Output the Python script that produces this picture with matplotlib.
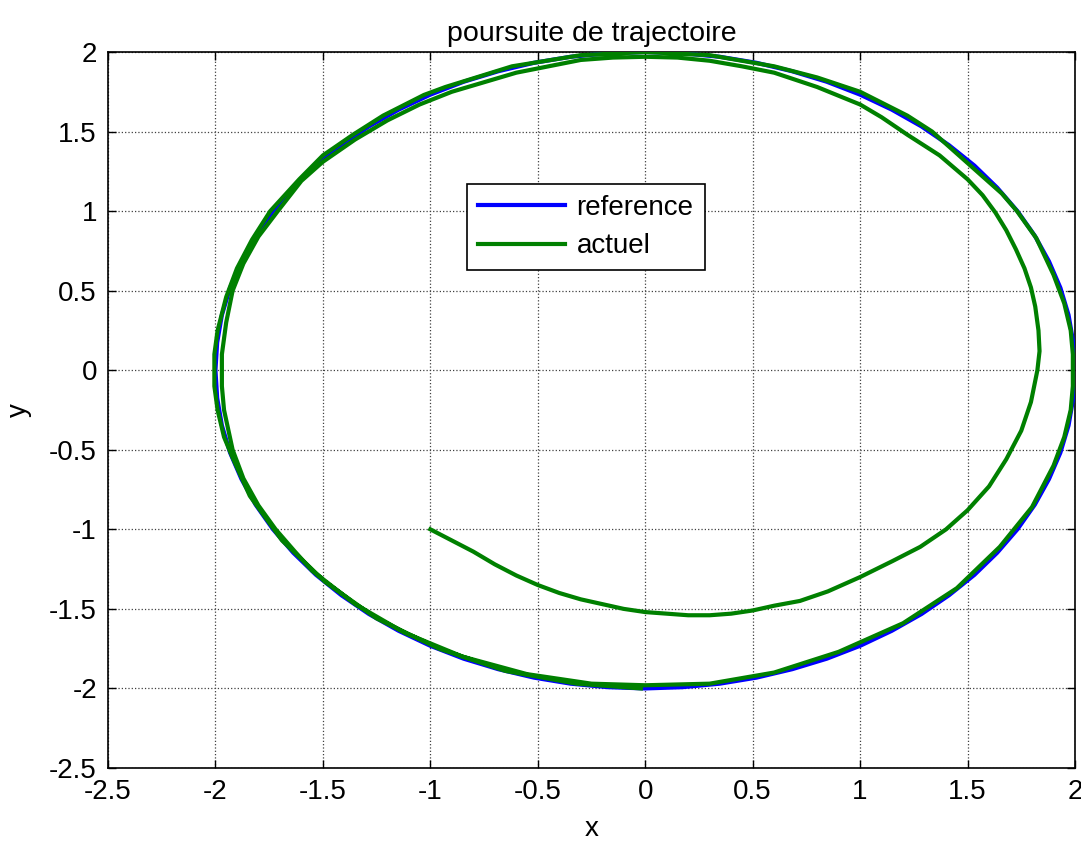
import matplotlib
matplotlib.use("Agg")
import matplotlib.pyplot as plt

plt.rcParams['font.family'] = ['Liberation Sans', 'DejaVu Sans']

# reference circle (radius 2)
ref_x = [2.000, 1.992, 1.970, 1.932, 1.879, 1.813, 1.732, 1.638, 1.532, 1.414,
         1.286, 1.147, 1.000, 0.845, 0.684, 0.518, 0.347, 0.174, 0.000,
         -0.174, -0.347, -0.518, -0.684, -0.845, -1.000, -1.147, -1.286, -1.414,
         -1.532, -1.638, -1.732, -1.813, -1.879, -1.932, -1.970, -1.992, -2.000,
         -1.992, -1.970, -1.932, -1.879, -1.813, -1.732, -1.638, -1.532, -1.414,
         -1.286, -1.147, -1.000, -0.845, -0.684, -0.518, -0.347, -0.174, 0.000,
         0.174, 0.347, 0.518, 0.684, 0.845, 1.000, 1.147, 1.286, 1.414,
         1.532, 1.638, 1.732, 1.813, 1.879, 1.932, 1.970, 1.992, 2.000]
ref_y = [0.000, 0.174, 0.347, 0.518, 0.684, 0.845, 1.000, 1.147, 1.286, 1.414,
         1.532, 1.638, 1.732, 1.813, 1.879, 1.932, 1.970, 1.992, 2.000,
         1.992, 1.970, 1.932, 1.879, 1.813, 1.732, 1.638, 1.532, 1.414,
         1.286, 1.147, 1.000, 0.845, 0.684, 0.518, 0.347, 0.174, 0.000,
         -0.174, -0.347, -0.518, -0.684, -0.845, -1.000, -1.147, -1.286, -1.414,
         -1.532, -1.638, -1.732, -1.813, -1.879, -1.932, -1.970, -1.992, -2.000,
         -1.992, -1.970, -1.932, -1.879, -1.813, -1.732, -1.638, -1.532, -1.414,
         -1.286, -1.147, -1.000, -0.845, -0.684, -0.518, -0.347, -0.174, 0.000]

act_x = [-1.00, -0.90, -0.80, -0.70, -0.60, -0.50, -0.40, -0.30, -0.20, -0.10,
         0.00, 0.10, 0.20, 0.30, 0.40, 0.50, 0.60, 0.72, 0.85, 1.00,
         1.15, 1.28, 1.40, 1.50, 1.60, 1.68, 1.75, 1.795, 1.825, 1.835,
         1.83, 1.815, 1.795, 1.765, 1.725, 1.68, 1.63, 1.57, 1.50, 1.37,
         1.22, 1.10, 1.00, 0.80, 0.60, 0.45, 0.30, 0.15, 0.00, -0.15,
         -0.30, -0.60, -0.90, -1.05, -1.20, -1.35, -1.50, -1.60, -1.71, -1.80,
         -1.87, -1.92, -1.95, -1.97, -1.97, -1.96, -1.92, -1.87, -1.80, -1.72,
         -1.63, -1.55, -1.35, -1.12, -0.85, -0.55, -0.25, 0.00, 0.30, 0.60,
         0.90, 1.20, 1.45, 1.65, 1.80, 1.90, 1.95, 1.98, 1.99, 1.99,
         1.98, 1.95, 1.90, 1.82, 1.73, 1.66, 1.46, 1.335, 1.22, 1.00,
         0.80, 0.60, 0.30, 0.00, -0.30, -0.62, -0.93, -1.03, -1.22, -1.36,
         -1.50, -1.61, -1.745, -1.83, -1.90, -1.95, -1.99, -2.005, -2.005, -1.99,
         -1.96, -1.92, -1.84, -1.69, -1.49, -1.25, -0.96, -0.65, -0.32, -0.02]
act_y = [-1.00, -1.07, -1.14, -1.22, -1.29, -1.35, -1.40, -1.44, -1.47, -1.50,
         -1.52, -1.53, -1.54, -1.54, -1.53, -1.51, -1.48, -1.45, -1.39, -1.30,
         -1.20, -1.11, -1.00, -0.88, -0.73, -0.56, -0.38, -0.20, 0.00, 0.12,
         0.25, 0.40, 0.52, 0.64, 0.76, 0.88, 0.99, 1.10, 1.20, 1.35,
         1.48, 1.59, 1.67, 1.78, 1.87, 1.91, 1.945, 1.965, 1.97, 1.965,
         1.95, 1.87, 1.75, 1.67, 1.57, 1.45, 1.31, 1.19, 1.00, 0.84,
         0.67, 0.50, 0.30, 0.10, -0.10, -0.25, -0.50, -0.68, -0.85, -1.00,
         -1.14, -1.26, -1.47, -1.65, -1.80, -1.91, -1.97, -1.98, -1.97, -1.90,
         -1.77, -1.59, -1.37, -1.11, -0.86, -0.60, -0.42, -0.25, -0.10, 0.10,
         0.25, 0.42, 0.60, 0.83, 1.00, 1.11, 1.35, 1.50, 1.60, 1.75,
         1.84, 1.91, 1.98, 2.00, 1.98, 1.91, 1.78, 1.73, 1.60, 1.48,
         1.35, 1.20, 1.00, 0.82, 0.64, 0.46, 0.25, 0.10, -0.10, -0.25,
         -0.42, -0.55, -0.79, -1.07, -1.33, -1.56, -1.75, -1.89, -1.97, -2.00]

xticks = [-2.5, -2, -1.5, -1, -0.5, 0, 0.5, 1, 1.5, 2]
yticks = [-2.5, -2, -1.5, -1, -0.5, 0, 0.5, 1, 1.5, 2]
xtick_labels = ['-2.5', '-2', '-1.5', '-1', '-0.5', '0', '0.5', '1', '1.5', '2']
ytick_labels = ['-2.5', '-2', '-1.5', '-1', '-0.5', '0', '0.5', '1', '1.5', '2']

fig = plt.figure(figsize=(10.81, 8.42), dpi=100)
ax = fig.add_axes([108/1081, 74/842, 967/1081, 716/842])

ax.plot(ref_x, ref_y, color=(0, 0, 1), lw=3, label='reference', zorder=3)
ax.plot(act_x, act_y, color=(0, 0.5, 0), lw=3, label='actuel', zorder=4)

ax.set_xlim(-2.5, 2)
ax.set_ylim(-2.5, 2)
ax.set_xticks(xticks)
ax.set_xticklabels(xtick_labels)
ax.set_yticks(yticks)
ax.set_yticklabels(ytick_labels)
ax.tick_params(direction='in', length=6, width=1, top=True, right=True,
               labelsize=20, pad=8)
ax.grid(True, linestyle=':', color='#404040', lw=0.9)
for s in ax.spines.values():
    s.set_linewidth(1.2)

ax.set_title('poursuite de trajectoire', fontsize=20.5, pad=8)
ax.set_xlabel('x', fontsize=20, labelpad=8)
ax.set_ylabel('y', fontsize=20, labelpad=12)

leg = ax.legend(loc='upper left', bbox_to_anchor=(0.371, 0.816), fontsize=20,
                fancybox=False, edgecolor='black', framealpha=1,
                borderaxespad=0, handlelength=3.15, handletextpad=0.4,
                borderpad=0.4, labelspacing=0.45)
leg.get_frame().set_linewidth(1.2)

fig.savefig('out.png', dpi=100)
